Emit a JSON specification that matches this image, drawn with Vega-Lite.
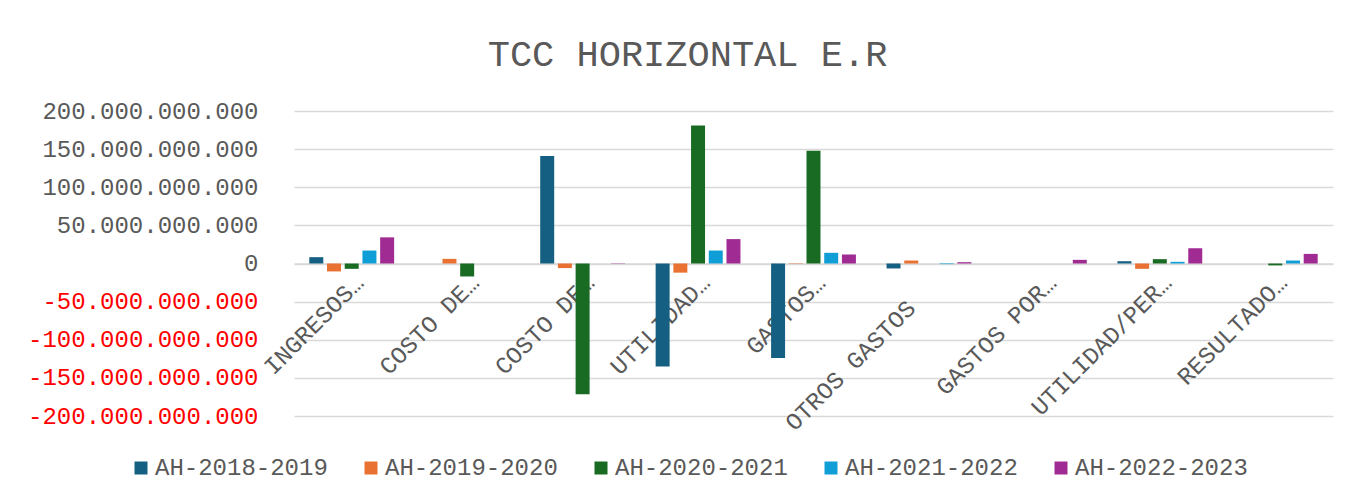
{
  "$schema": "https://vega.github.io/schema/vega-lite/v6.json",
  "autosize": {"type": "none"},
  "padding": {"left": 294, "top": 111, "right": 19, "bottom": 81},
  "width": 1039,
  "height": 305,
  "background": "#ffffff",
  "title": {
    "text": "TCC HORIZONTAL E.R",
    "font": "Liberation Mono",
    "fontSize": 37,
    "fontWeight": "normal",
    "color": "#595959",
    "anchor": "middle",
    "frame": "group",
    "dx": -126,
    "offset": 25
  },
  "data": {
    "values": [
      {"cuenta": "INGRESOS OPERACIONALES", "periodo": "AH-2018-2019", "valor": 8300000000},
      {"cuenta": "INGRESOS OPERACIONALES", "periodo": "AH-2019-2020", "valor": -10400000000},
      {"cuenta": "INGRESOS OPERACIONALES", "periodo": "AH-2020-2021", "valor": -7000000000},
      {"cuenta": "INGRESOS OPERACIONALES", "periodo": "AH-2021-2022", "valor": 17000000000},
      {"cuenta": "INGRESOS OPERACIONALES", "periodo": "AH-2022-2023", "valor": 34300000000},
      {"cuenta": "COSTO DE VENTAS", "periodo": "AH-2018-2019", "valor": 0},
      {"cuenta": "COSTO DE VENTAS", "periodo": "AH-2019-2020", "valor": 6100000000},
      {"cuenta": "COSTO DE VENTAS", "periodo": "AH-2020-2021", "valor": -17000000000},
      {"cuenta": "COSTO DE VENTAS", "periodo": "AH-2021-2022", "valor": 0},
      {"cuenta": "COSTO DE VENTAS", "periodo": "AH-2022-2023", "valor": 0},
      {"cuenta": "COSTO DE PRODUCCIÓN", "periodo": "AH-2018-2019", "valor": 141000000000},
      {"cuenta": "COSTO DE PRODUCCIÓN", "periodo": "AH-2019-2020", "valor": -6000000000},
      {"cuenta": "COSTO DE PRODUCCIÓN", "periodo": "AH-2020-2021", "valor": -171500000000},
      {"cuenta": "COSTO DE PRODUCCIÓN", "periodo": "AH-2021-2022", "valor": 0},
      {"cuenta": "COSTO DE PRODUCCIÓN", "periodo": "AH-2022-2023", "valor": 400000000},
      {"cuenta": "UTILIDAD BRUTA", "periodo": "AH-2018-2019", "valor": -135000000000},
      {"cuenta": "UTILIDAD BRUTA", "periodo": "AH-2019-2020", "valor": -12000000000},
      {"cuenta": "UTILIDAD BRUTA", "periodo": "AH-2020-2021", "valor": 181000000000},
      {"cuenta": "UTILIDAD BRUTA", "periodo": "AH-2021-2022", "valor": 17000000000},
      {"cuenta": "UTILIDAD BRUTA", "periodo": "AH-2022-2023", "valor": 32000000000},
      {"cuenta": "GASTOS OPERACIONALES", "periodo": "AH-2018-2019", "valor": -124000000000},
      {"cuenta": "GASTOS OPERACIONALES", "periodo": "AH-2019-2020", "valor": -500000000},
      {"cuenta": "GASTOS OPERACIONALES", "periodo": "AH-2020-2021", "valor": 148000000000},
      {"cuenta": "GASTOS OPERACIONALES", "periodo": "AH-2021-2022", "valor": 14000000000},
      {"cuenta": "GASTOS OPERACIONALES", "periodo": "AH-2022-2023", "valor": 11800000000},
      {"cuenta": "OTROS GASTOS", "periodo": "AH-2018-2019", "valor": -6500000000},
      {"cuenta": "OTROS GASTOS", "periodo": "AH-2019-2020", "valor": 3900000000},
      {"cuenta": "OTROS GASTOS", "periodo": "AH-2020-2021", "valor": 0},
      {"cuenta": "OTROS GASTOS", "periodo": "AH-2021-2022", "valor": -800000000},
      {"cuenta": "OTROS GASTOS", "periodo": "AH-2022-2023", "valor": 1700000000},
      {"cuenta": "GASTOS POR IMPUESTOS", "periodo": "AH-2018-2019", "valor": 0},
      {"cuenta": "GASTOS POR IMPUESTOS", "periodo": "AH-2019-2020", "valor": 0},
      {"cuenta": "GASTOS POR IMPUESTOS", "periodo": "AH-2020-2021", "valor": 0},
      {"cuenta": "GASTOS POR IMPUESTOS", "periodo": "AH-2021-2022", "valor": 0},
      {"cuenta": "GASTOS POR IMPUESTOS", "periodo": "AH-2022-2023", "valor": 4800000000},
      {"cuenta": "UTILIDAD/PERDIDA DEL EJERCICIO", "periodo": "AH-2018-2019", "valor": 3000000000},
      {"cuenta": "UTILIDAD/PERDIDA DEL EJERCICIO", "periodo": "AH-2019-2020", "valor": -7000000000},
      {"cuenta": "UTILIDAD/PERDIDA DEL EJERCICIO", "periodo": "AH-2020-2021", "valor": 5700000000},
      {"cuenta": "UTILIDAD/PERDIDA DEL EJERCICIO", "periodo": "AH-2021-2022", "valor": 2200000000},
      {"cuenta": "UTILIDAD/PERDIDA DEL EJERCICIO", "periodo": "AH-2022-2023", "valor": 20000000000},
      {"cuenta": "RESULTADO INTEGRAL", "periodo": "AH-2018-2019", "valor": 0},
      {"cuenta": "RESULTADO INTEGRAL", "periodo": "AH-2019-2020", "valor": 0},
      {"cuenta": "RESULTADO INTEGRAL", "periodo": "AH-2020-2021", "valor": -2500000000},
      {"cuenta": "RESULTADO INTEGRAL", "periodo": "AH-2021-2022", "valor": 3900000000},
      {"cuenta": "RESULTADO INTEGRAL", "periodo": "AH-2022-2023", "valor": 12600000000}
    ]
  },
  "mark": {"type": "bar"},
  "encoding": {
    "x": {
      "field": "cuenta",
      "type": "nominal",
      "sort": null,
      "scale": {"paddingInner": 0.233, "paddingOuter": 0.1165},
      "axis": {
        "title": null,
        "orient": "bottom",
        "offset": -152.5,
        "labelAngle": -45,
        "labelAlign": "right",
        "labelBaseline": "top",
        "labelPadding": 7,
        "ticks": false,
        "domain": true,
        "domainColor": "#D9D9D9",
        "domainWidth": 1.5,
        "grid": false,
        "labelFont": "Liberation Mono",
        "labelFontSize": 24,
        "labelColor": "#595959",
        "labelLimit": 0,
        "labelOverlap": false,
        "labelExpr": "datum.label == 'OTROS GASTOS' ? 'OTROS GASTOS\u2800\u2800' : datum.label == 'UTILIDAD/PERDIDA DEL EJERCICIO' ? 'UTILIDAD/PER…' : datum.label == 'GASTOS POR IMPUESTOS' ? 'GASTOS POR…' : (datum.label == 'COSTO DE VENTAS' || datum.label == 'COSTO DE PRODUCCIÓN') ? 'COSTO DE…' : split(datum.label, ' ')[0] + '…'"
      }
    },
    "xOffset": {
      "field": "periodo",
      "type": "nominal",
      "scale": {"paddingInner": 0.21, "paddingOuter": 0.105}
    },
    "y": {
      "field": "valor",
      "type": "quantitative",
      "scale": {"domain": [-200000000000, 200000000000], "nice": false, "zero": true},
      "axis": {
        "title": null,
        "values": [-200000000000, -150000000000, -100000000000, -50000000000, 0, 50000000000, 100000000000, 150000000000, 200000000000],
        "format": ",d",
        "ticks": false,
        "domain": false,
        "grid": true,
        "gridColor": "#D9D9D9",
        "gridWidth": 1.5,
        "labelPadding": 36,
        "labelLimit": 0,
        "labelFont": "Liberation Mono",
        "labelFontSize": 24,
        "labelColor": {"condition": {"test": "datum.value < 0", "value": "#FF0000"}, "value": "#595959"}
      }
    },
    "color": {
      "field": "periodo",
      "type": "nominal",
      "scale": {
        "domain": ["AH-2018-2019", "AH-2019-2020", "AH-2020-2021", "AH-2021-2022", "AH-2022-2023"],
        "range": ["#156082", "#E97132", "#196B24", "#0F9ED5", "#A02B93"]
      },
      "legend": {
        "title": null,
        "orient": "none",
        "direction": "horizontal",
        "legendX": -165,
        "legendY": 345,
        "symbolType": "square",
        "symbolSize": 169,
        "symbolStrokeWidth": 0,
        "labelFont": "Liberation Mono",
        "labelFontSize": 24,
        "labelColor": "#595959",
        "labelOffset": 2,
        "labelLimit": 0,
        "columnPadding": 31,
        "padding": 0
      }
    }
  },
  "config": {
    "locale": {
      "number": {"decimal": ",", "thousands": ".", "grouping": [3], "currency": ["$", ""], "minus": "-"}
    },
    "view": {"stroke": null}
  }
}
